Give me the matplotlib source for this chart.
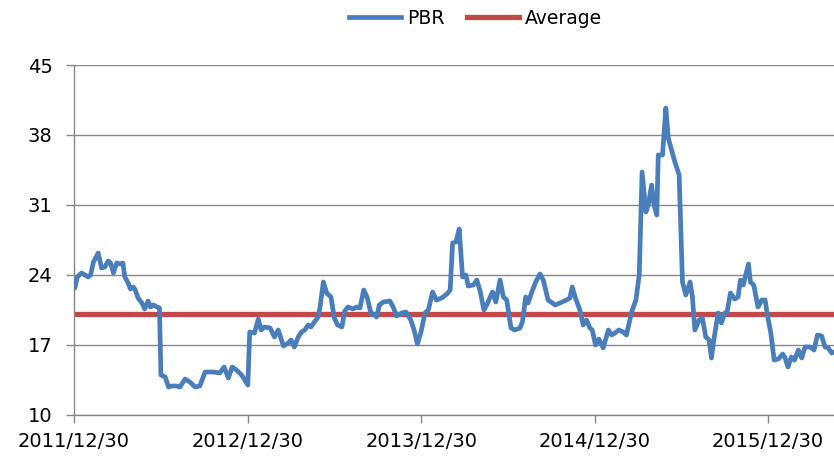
import pandas as pd
import matplotlib
matplotlib.use("Agg")
import matplotlib.pyplot as plt
import matplotlib.dates as mdates

# PBR series: days after 2011/12/30 and value
START = "2011-12-30"
days = [0, 2, 7, 16, 23, 30, 35, 41, 51, 58, 65, 72, 77, 83, 90, 97, 103, 107,
        114, 119, 125, 129, 135, 143, 149, 156, 161, 167, 175, 180, 183, 192,
        199, 206, 216, 223, 234, 244, 255, 265, 276, 283, 293, 307, 316, 325,
        333, 342, 353, 366, 370, 380, 388, 394, 401, 413, 422, 430, 441, 451,
        457, 464, 472, 479, 486, 493, 499, 506, 514, 518, 525, 532, 541, 548,
        555, 564, 570, 577, 587, 595, 602, 610, 617, 625, 630, 637, 643, 651,
        665, 672, 679, 690, 699, 709, 716, 723, 730, 739, 746, 755, 763, 774,
        785, 792, 797, 804, 811, 818, 825, 830, 841, 848, 855, 863, 869, 881,
        888, 897, 904, 911, 920, 928, 939, 944, 951, 956, 963, 972, 981, 988,
        998, 1013, 1023, 1037, 1044, 1049, 1055, 1065, 1072, 1079, 1086, 1091,
        1098, 1105, 1114, 1125, 1132, 1139, 1147, 1156, 1163, 1174, 1183, 1190,
        1196, 1204, 1209, 1216, 1221, 1227, 1230, 1239, 1246, 1251, 1258, 1265,
        1274, 1281, 1288, 1297, 1302, 1307, 1316, 1323, 1330, 1337, 1342, 1347,
        1356, 1363, 1370, 1375, 1382, 1391, 1398, 1403, 1409, 1413, 1420, 1424,
        1431, 1440, 1448, 1455, 1459, 1467, 1474, 1483, 1492, 1497, 1503, 1510,
        1517, 1525, 1532, 1539, 1549, 1558, 1565, 1574, 1581, 1588, 1595, 1600]
pbr = [22.8, 22.7, 23.8, 24.2, 24.0, 23.8, 24.0, 25.3, 26.2, 24.7, 24.8, 25.4,
       25.2, 24.2, 25.2, 25.1, 25.2, 23.8, 23.2, 22.6, 22.8, 22.5, 21.7, 21.2,
       20.6, 21.4, 20.8, 21.0, 20.8, 20.7, 14.0, 13.8, 12.8, 12.9, 12.9, 12.8,
       13.6, 13.3, 12.8, 12.9, 14.3, 14.3, 14.3, 14.2, 14.8, 13.7, 14.8, 14.5,
       14.0, 13.0, 18.3, 18.2, 19.6, 18.5, 18.8, 18.7, 17.8, 18.5, 16.9, 17.2,
       17.5, 16.8, 17.8, 18.3, 18.5, 19.0, 18.8, 19.3, 19.8, 20.8, 23.3, 22.2,
       21.8, 19.7, 19.0, 18.8, 20.4, 20.8, 20.6, 20.8, 20.7, 22.5, 21.8, 20.2,
       20.1, 19.8, 21.0, 21.3, 21.4, 20.8, 19.9, 20.2, 20.3, 19.5, 18.5, 17.1,
       18.2, 20.2, 20.5, 22.3, 21.5, 21.7, 22.1, 22.5, 27.2, 27.3, 28.6, 23.8,
       24.0, 22.9, 23.0, 23.5, 22.4, 20.5, 21.0, 22.3, 21.3, 23.5, 21.8, 21.5,
       18.7, 18.5, 18.7, 19.3, 21.8, 21.2, 22.2, 23.3, 24.1, 23.5, 21.5, 21.0,
       21.2, 21.5, 21.7, 22.8, 21.8, 20.5, 19.0, 19.5, 18.7, 18.5, 17.0, 17.6,
       16.7, 18.5, 18.0, 18.2, 18.5, 18.3, 18.0, 20.3, 21.5, 24.0, 34.3, 30.3,
       31.0, 33.0, 31.0, 30.0, 36.0, 36.0, 40.7, 37.7, 36.5, 35.3, 34.0, 23.3,
       22.0, 23.3, 21.8, 18.5, 19.5, 19.7, 17.8, 17.5, 15.7, 17.5, 20.2, 19.2,
       20.2, 20.3, 22.2, 21.6, 21.8, 23.5, 23.0, 23.8, 25.1, 23.3, 23.0, 20.8,
       21.5, 21.5, 20.2, 18.2, 15.5, 15.6, 16.1, 15.7, 14.8, 15.8, 15.5, 16.5,
       15.7, 16.8, 16.8, 16.5, 18.0, 17.9, 16.8, 16.7, 16.2, 16.3]
average = 20.07

y_ticks = [10, 17, 24, 31, 38, 45]
x_ticks = ["2011-12-30", "2012-12-30", "2013-12-30", "2014-12-30", "2015-12-30"]

dates = pd.Timestamp(START) + pd.to_timedelta(days, unit="D")
tick_dates = pd.to_datetime(x_ticks)

fig = plt.figure(figsize=(8.34, 4.61), dpi=100)
ax = fig.add_axes([0.0887, 0.0998, 0.9113, 0.7592])

grid_col = "#868686"
ax.plot(dates, pbr, color="#4a7ebb", lw=3.4, label="PBR", zorder=3,
        solid_joinstyle="round")
ax.plot([dates[0], dates[-1]], [average, average], color="#be4b48", lw=3.8,
        label="Average", zorder=2)

ax.set_xlim(dates[0], dates[-1])
ax.set_ylim(10, 45)
ax.set_yticks(y_ticks)
ax.set_xticks(tick_dates)
ax.xaxis.set_major_formatter(mdates.DateFormatter("%Y/%m/%d"))
ax.yaxis.grid(True, color=grid_col, lw=1)
ax.set_axisbelow(True)

for s in ["top", "right"]:
    ax.spines[s].set_visible(False)
for s in ["left", "bottom"]:
    ax.spines[s].set_color(grid_col)
    ax.spines[s].set_linewidth(1)

ax.tick_params(axis="y", length=5.5, width=1, color=grid_col, pad=10,
               labelsize=14)
ax.tick_params(axis="x", length=6, width=1, color=grid_col, pad=6,
               labelsize=14)

fig.legend(loc="center", bbox_to_anchor=(0.57, 0.96), ncol=2, frameon=False,
           fontsize=13.5, handlelength=2.8, handletextpad=0.3,
           columnspacing=1.2)

fig.savefig("out.png", dpi=100)
